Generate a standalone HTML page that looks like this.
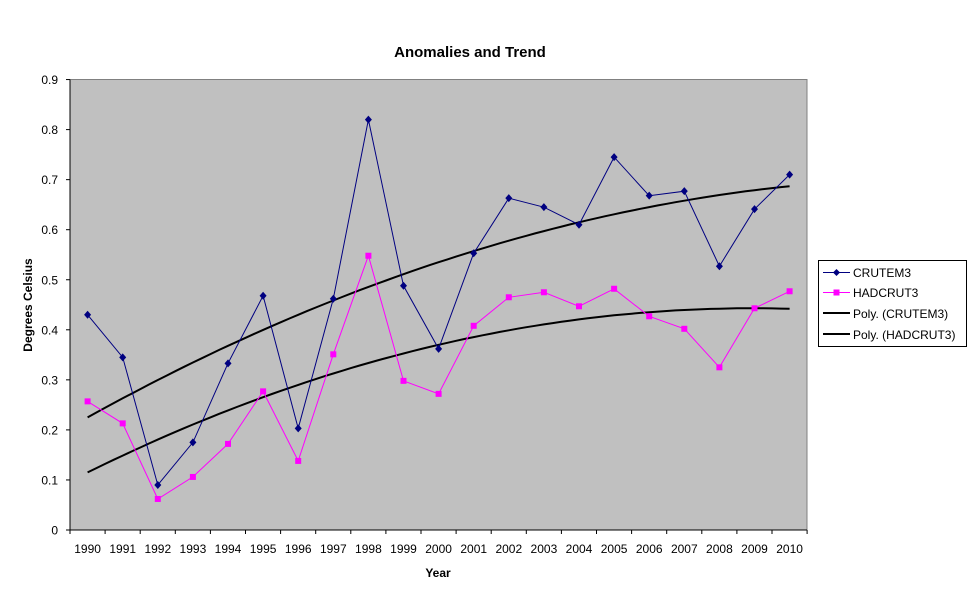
<!DOCTYPE html>
<html><head><meta charset="utf-8"><style>
html,body{margin:0;padding:0;background:#fff;}
svg{display:block;font-family:"Liberation Sans",Arial,sans-serif;}
</style></head><body>
<svg id="c" width="977" height="600" xmlns="http://www.w3.org/2000/svg">
<rect x="0" y="0" width="977" height="600" fill="#fff"/>
<rect x="70" y="79.5" width="737" height="450.5" fill="#C0C0C0" stroke="#808080" stroke-width="1"/>
<text x="470" y="57" text-anchor="middle" font-size="15" font-weight="bold">Anomalies and Trend</text>
<text x="438" y="577" text-anchor="middle" font-size="12" font-weight="bold">Year</text>
<text transform="translate(32,305) rotate(-90)" text-anchor="middle" font-size="12" font-weight="bold">Degrees Celsius</text>
<g id="g"></g>
<rect x="818.5" y="260.5" width="148" height="86" fill="#fff" stroke="#000" stroke-width="1"/>
<line x1="823" y1="272.5" x2="850" y2="272.5" stroke="#000080"/>
<path d="M836.5 269 L840 272.5 L836.5 276 L833 272.5Z" fill="#000080"/>
<text x="853" y="277" font-size="12">CRUTEM3</text>
<line x1="823" y1="292.5" x2="850" y2="292.5" stroke="#FF00FF"/>
<rect x="833.5" y="289.5" width="6" height="6" fill="#FF00FF"/>
<text x="853" y="297" font-size="12">HADCRUT3</text>
<line x1="823" y1="313" x2="850" y2="313" stroke="#000" stroke-width="2"/>
<text x="853" y="318" font-size="12">Poly. (CRUTEM3)</text>
<line x1="823" y1="334" x2="850" y2="334" stroke="#000" stroke-width="2"/>
<text x="853" y="339" font-size="12">Poly. (HADCRUT3)</text>
</svg>
<script>
var NS="http://www.w3.org/2000/svg",g=document.getElementById("g");
function el(t,a,txt){var e=document.createElementNS(NS,t);for(var k in a)e.setAttribute(k,a[k]);if(txt!=null)e.textContent=txt;g.appendChild(e);return e;}
var cr=[0.43,0.345,0.09,0.175,0.333,0.468,0.203,0.462,0.82,0.488,0.362,0.553,0.663,0.645,0.61,0.745,0.668,0.677,0.527,0.641,0.71];
var hc=[0.257,0.213,0.062,0.106,0.172,0.277,0.138,0.351,0.548,0.298,0.272,0.408,0.465,0.475,0.447,0.482,0.427,0.402,0.325,0.443,0.477];
function X(i){return 87.6+35.1*i;}function Y(v){return 530-v*500.5;}
// y ticks
for(var i=0;i<=9;i++){var y=Y(i/10);el("line",{x1:66,y1:y,x2:70,y2:y,stroke:"#000"});
el("text",{x:58,y:y+4.5,"text-anchor":"end","font-size":"12"},i==0?"0":(i/10).toFixed(1));}
el("line",{x1:70,y1:79.5,x2:70,y2:530,stroke:"#000"});
el("line",{x1:66,y1:530,x2:807,y2:530,stroke:"#000"});
for(var i=0;i<=21;i++){var x=70+35.1*i;el("line",{x1:x,y1:530,x2:x,y2:534,stroke:"#000"});}
for(var i=0;i<21;i++)el("text",{x:X(i),y:553,"text-anchor":"middle","font-size":"12"},String(1990+i));
// trends
function poly(a,b,c){var p="";for(var t=0;t<=20;t+=0.25){p+=(t?"L":"M")+X(t).toFixed(1)+" "+Y(a+b*t+c*t*t).toFixed(1);}el("path",{d:p,fill:"none",stroke:"#000","stroke-width":2});}
poly(0.225,0.0389,-0.00079);poly(0.115,0.03465,-0.000915);
function ser(d,col,mk){var p="";d.forEach(function(v,i){p+=(i?"L":"M")+X(i).toFixed(1)+" "+Y(v).toFixed(1);});
el("path",{d:p,fill:"none",stroke:col,"stroke-width":1});
d.forEach(function(v,i){var x=X(i),y=Y(v);if(mk=="d")el("path",{d:"M"+x+" "+(y-4)+"L"+(x+3.5)+" "+y+"L"+x+" "+(y+4)+"L"+(x-3.5)+" "+y+"Z",fill:col});
else el("rect",{x:x-3,y:y-3,width:6,height:6,fill:col});});}
ser(hc,"#FF00FF","s");ser(cr,"#000080","d");
</script>
</body></html>
